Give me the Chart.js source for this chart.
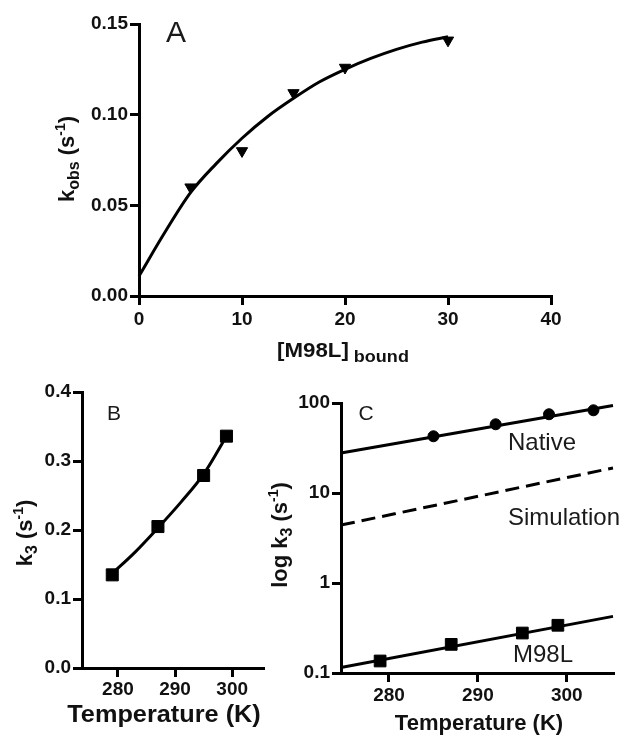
<!DOCTYPE html>
<html>
<head>
<meta charset="utf-8">
<script src="https://cdn.jsdelivr.net/npm/chart.js@4.4.1/dist/chart.umd.min.js"></script>
<style>
body { margin: 0; background: #fff; }
#wrap { position: relative; width: 627px; height: 737px; }
#wrap canvas { position: absolute; left: 0; top: 0; }
</style>
</head>
<body>
<div id="wrap">
    <canvas id="chartA" width="627" height="737"></canvas>
    <canvas id="chartB" width="627" height="737"></canvas>
    <canvas id="chartC" width="627" height="737"></canvas>
</div>
<script>
// panel A: kobs vs bound M98L
const boundConc = [5, 10, 15, 20, 30];
const kobs = [0.060, 0.080, 0.112, 0.126, 0.141];
const fitConcA = [0, 2.5, 5, 7.5, 10, 12.5, 15, 17.5, 20, 22.5, 25, 27.5, 30];
const fitKobs = [0.011, 0.035, 0.057, 0.073, 0.087, 0.099, 0.109, 0.118, 0.125, 0.131, 0.136, 0.140, 0.143];
const ticksAx = [0, 10, 20, 30, 40];
const ticksAy = [0, 0.05, 0.10, 0.15];

// panel B: k3 vs temperature
const tempB = [279, 287, 295, 299];
const k3B = [0.135, 0.205, 0.279, 0.336];
const fitTempB = [279, 283, 287, 291, 295, 299];
const fitK3B = [0.137, 0.168, 0.203, 0.240, 0.281, 0.336];
const ticksBx = [280, 290, 300];
const ticksBy = [0, 0.1, 0.2, 0.3, 0.4];

// panel C: log k3 vs temperature
const tempNative = [285, 292, 298, 303];
const k3Native = [42.7, 58, 75, 83];
const tempM98L = [279, 287, 295, 299];
const k3M98L = [0.136, 0.208, 0.278, 0.339];
const fitTempC = [274.6, 305.2];
const fitNative = [27.8, 94];
const fitSimulation = [4.4, 19];
const fitM98L = [0.115, 0.426];
const ticksCx = [280, 290, 300];
const ticksCy = [0.1, 1, 10, 100];

const fam = '"Liberation Sans", Arial, sans-serif';

const pts = (xs, ys) => xs.map((x, i) => ({ x: x, y: ys[i] }));

// draw a run of text pieces (for sub/superscripts), centred on x, at baseline y
const drawRich = (ctx, parts, x, y, angle, stretch) => {
    ctx.save();
    ctx.translate(x, y);
    ctx.rotate(angle || 0);
    ctx.scale(stretch || 1, 1);
    ctx.fillStyle = '#111';
    ctx.textBaseline = 'alphabetic';
    ctx.textAlign = 'left';
    let total = 0;
    parts.forEach((p) => {
        ctx.font = `${p.weight || 'bold'} ${p.size}px ${fam}`;
        p.w = ctx.measureText(p.text).width;
        total += p.w;
    });
    let cx = -total / 2;
    parts.forEach((p) => {
        ctx.font = `${p.weight || 'bold'} ${p.size}px ${fam}`;
        ctx.fillText(p.text, cx, p.dy || 0);
        cx += p.w;
    });
    ctx.restore();
};

const drawText = (ctx, text, x, y, size, align) => {
    ctx.save();
    ctx.fillStyle = '#1a1a1a';
    ctx.font = `normal ${size}px ${fam}`;
    ctx.textAlign = align || 'center';
    ctx.textBaseline = 'alphabetic';
    ctx.fillText(text, x, y);
    ctx.restore();
};

const axis = (type, min, max, tickList, fmt, size, isY, pad) => ({
    type: type,
    min: min,
    max: max,
    afterBuildTicks: (s) => { s.ticks = tickList.map((v) => ({ value: v })) },
    afterFit: (s) => { if (isY) s.width = size; else s.height = size },
    border: { display: true, color: '#000', width: 3 },
    grid: { display: true, drawOnChartArea: false, drawTicks: true, tickLength: 9, lineWidth: 3, color: '#000' },
    ticks: { color: '#111', font: { family: fam, size: 19, weight: 'bold' }, padding: pad === undefined ? 2 : pad, maxRotation: 0, autoSkip: false, callback: fmt }
});

const markers = (data, style, radius, rotation) => ({
    data: data,
    showLine: false,
    pointStyle: style,
    pointRadius: radius,
    pointRotation: rotation || 0,
    backgroundColor: '#000',
    borderColor: '#000',
    borderWidth: 1,
    clip: false
});

const curve = (data, dash) => ({
    data: data,
    showLine: true,
    pointRadius: 0,
    borderColor: '#000',
    borderWidth: 3,
    borderDash: dash || [],
    cubicInterpolationMode: 'monotone',
    clip: false
});

const baseOptions = (padding, scales) => ({
    responsive: false,
    animation: false,
    events: [],
    devicePixelRatio: 1,
    layout: { padding: padding },
    plugins: { legend: { display: false }, tooltip: { enabled: false } },
    scales: scales
});

// Panel A
new Chart(document.getElementById('chartA'), {
    type: 'scatter',
    data: {
        datasets: [
            curve(pts(fitConcA, fitKobs)),
            markers(pts(boundConc, kobs), 'triangle', 6.5, 180)
        ]
    },
    options: baseOptions({ left: 79, right: 76, top: 24, bottom: 401 }, {
        x: axis('linear', 0, 40, ticksAx, (v) => v, 40, false, 3),
        y: axis('linear', 0, 0.15, ticksAy, (v) => v.toFixed(2), 60, true)
    }),
    plugins: [{
        id: 'textA',
        afterDraw: (chart) => {
            const ctx = chart.ctx;
            drawText(ctx, 'A', 176, 42, 30);
            drawRich(ctx, [
                { text: 'k', size: 22 },
                { text: 'obs', size: 16, dy: 5 },
                { text: ' (s', size: 22 },
                { text: '-1', size: 14, dy: -9 },
                { text: ')', size: 22 }
            ], 74, 159, -Math.PI / 2);
            drawRich(ctx, [
                { text: '[M98L]', size: 21 },
                { text: ' bound', size: 17, dy: 5 }
            ], 343, 357, 0, 1.06);
        }
    }]
});

// Panel B
new Chart(document.getElementById('chartB'), {
    type: 'scatter',
    data: {
        datasets: [
            curve(pts(fitTempB, fitK3B)),
            markers(pts(tempB, k3B), 'rect', 8.5)
        ]
    },
    options: baseOptions({ left: 32, right: 364, top: 392, bottom: 29 }, {
        x: axis('linear', 273.7, 305.4, ticksBx, (v) => v, 40, false, 1),
        y: axis('linear', 0, 0.4, ticksBy, (v) => v.toFixed(1), 50, true)
    }),
    plugins: [{
        id: 'textB',
        afterDraw: (chart) => {
            const ctx = chart.ctx;
            drawText(ctx, 'B', 114, 420, 21);
            drawRich(ctx, [
                { text: 'k', size: 22 },
                { text: '3', size: 16, dy: 5 },
                { text: ' (s', size: 22 },
                { text: '-1', size: 14, dy: -9 },
                { text: ')', size: 22 }
            ], 32, 533, -Math.PI / 2);
            drawRich(ctx, [{ text: 'Temperature (K)', size: 23 }], 164, 722, 0, 1.1);
        }
    }]
});

// Panel C
new Chart(document.getElementById('chartC'), {
    type: 'scatter',
    data: {
        datasets: [
            curve(pts(fitTempC, fitNative)),
            curve(pts(fitTempC, fitSimulation), [14, 7]),
            curve(pts(fitTempC, fitM98L)),
            markers(pts(tempNative, k3Native), 'circle', 5.5),
            markers(pts(tempM98L, k3M98L), 'rect', 8.3)
        ]
    },
    options: baseOptions({ left: 291, right: 14, top: 403, bottom: 24 }, {
        x: axis('linear', 274.6, 305.2, ticksCx, (v) => v, 40, false, 2),
        y: axis('logarithmic', 0.1, 100, ticksCy, (v) => String(v), 50, true)
    }),
    plugins: [{
        id: 'textC',
        afterDraw: (chart) => {
            const ctx = chart.ctx;
            drawText(ctx, 'C', 366, 420, 21);
            drawText(ctx, 'Native', 508, 450, 24, 'left');
            drawText(ctx, 'Simulation', 508, 525, 24, 'left');
            drawText(ctx, 'M98L', 513, 662, 24, 'left');
            drawRich(ctx, [
                { text: 'log k', size: 22 },
                { text: '3', size: 16, dy: 5 },
                { text: ' (s', size: 22 },
                { text: '-1', size: 14, dy: -9 },
                { text: ')', size: 22 }
            ], 287, 535, -Math.PI / 2);
            drawRich(ctx, [{ text: 'Temperature (K)', size: 22 }], 479, 730, 0);
        }
    }]
});
</script>
</body>
</html>
